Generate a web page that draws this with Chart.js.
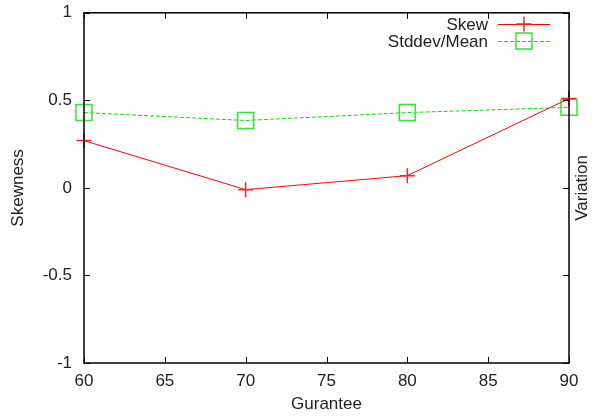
<!DOCTYPE html>
<html>
<head>
<meta charset="utf-8">
<script src="https://cdn.jsdelivr.net/npm/chart.js@4"></script>
<style>
  html, body { margin: 0; padding: 0; background: #fff; }
  #wrap { width: 592px; height: 416px; }
</style>
</head>
<body>
<div id="wrap"><canvas id="chart"></canvas></div>
<script>
const guarantee = [60, 70, 80, 90]
const skew = [0.27, -0.01, 0.07, 0.51]
const stddevMean = [0.43, 0.385, 0.43, 0.46]
const xTicks = [60, 65, 70, 75, 80, 85, 90]
const yTicks = [-1, -0.5, 0, 0.5, 1]

const FONT = { family: '"Liberation Sans", Arial, sans-serif', size: 17 }
const TEXT = '#222'

// gnuplot style frame: box round the plot, ticks pointing inward on all sides
const framePlugin = {
  id: 'frame',
  afterDraw(chart) {
    const { ctx, chartArea: a, scales } = chart
    ctx.save()
    ctx.strokeStyle = '#000'
    ctx.lineWidth = 1
    ctx.beginPath()
    xTicks.forEach(v => {
      const x = Math.round(scales.x.getPixelForValue(v)) + 0.5
      ctx.moveTo(x, a.bottom); ctx.lineTo(x, a.bottom - 6)
      ctx.moveTo(x, a.top); ctx.lineTo(x, a.top + 6)
    })
    yTicks.forEach(v => {
      const y = Math.round(scales.y.getPixelForValue(v)) + 0.5
      ctx.moveTo(a.left, y); ctx.lineTo(a.left + 6, y)
      ctx.moveTo(a.right, y); ctx.lineTo(a.right - 6, y)
    })
    ctx.stroke()
    ctx.lineWidth = 1.5
    ctx.strokeRect(a.left, a.top, a.right - a.left, a.bottom - a.top)

    // right axis title reads bottom-up like gnuplot
    ctx.fillStyle = TEXT
    ctx.font = FONT.size + 'px ' + FONT.family
    ctx.textAlign = 'center'
    ctx.textBaseline = 'middle'
    ctx.translate(582, (a.top + a.bottom) / 2)
    ctx.rotate(-Math.PI / 2)
    ctx.fillText('Variation', 0, 0)
    ctx.restore()

    // key in the top right corner
    ctx.save()
    ctx.font = FONT.size + 'px ' + FONT.family
    ctx.textAlign = 'right'
    ctx.textBaseline = 'middle'
    chart.data.datasets.forEach((ds, i) => {
      const y = 24 + i * 17
      ctx.fillStyle = TEXT
      ctx.fillText(ds.label, 488, y + 1)
      ctx.strokeStyle = ds.borderColor
      ctx.lineWidth = 1
      ctx.setLineDash(ds.borderDash || [])
      ctx.beginPath()
      ctx.moveTo(498, y + 0.5); ctx.lineTo(550, y + 0.5)
      ctx.stroke()
      ctx.setLineDash([])
      ctx.strokeStyle = ds.pointBorderColor
      ctx.fillStyle = 'rgba(0,0,0,0)'
      ctx.lineWidth = ds.pointBorderWidth
      Chart.helpers.drawPoint(ctx, {
        pointStyle: ds.pointStyle,
        radius: ds.pointRadius,
        borderWidth: ds.pointBorderWidth
      }, 524, y)
    })
    ctx.restore()
  }
}

new Chart(document.getElementById('chart'), {
  type: 'line',
  data: {
    datasets: [
      {
        label: 'Skew',
        data: guarantee.map((g, i) => ({ x: g, y: skew[i] })),
        borderColor: '#ff0000',
        borderWidth: 1,
        pointStyle: 'cross',
        pointRadius: 7.5,
        pointBorderColor: '#ff2020',
        pointBorderWidth: 1.5,
        clip: false
      },
      {
        label: 'Stddev/Mean',
        data: guarantee.map((g, i) => ({ x: g, y: stddevMean[i] })),
        borderColor: '#00e000',
        borderWidth: 1,
        borderDash: [4, 2],
        pointStyle: 'rect',
        pointRadius: 11.3,
        pointBorderColor: '#30e830',
        pointBackgroundColor: 'rgba(0,0,0,0)',
        pointBorderWidth: 1.5,
        clip: false
      }
    ]
  },
  plugins: [framePlugin],
  options: {
    responsive: true,
    maintainAspectRatio: false,
    animation: false,
    layout: { padding: { top: 12, right: 0, left: 0, bottom: 0 } },
    plugins: {
      legend: { display: false },
      tooltip: { enabled: false }
    },
    scales: {
      x: {
        type: 'linear',
        min: 60,
        max: 90,
        afterFit: s => { s.height = 53; s.paddingLeft = 0; s.paddingRight = 0 },
        afterBuildTicks: s => { s.ticks = xTicks.map(v => ({ value: v })) },
        grid: { display: false, drawTicks: false },
        border: { display: false },
        ticks: { color: TEXT, font: FONT, padding: 8, maxRotation: 0, callback: v => String(v) },
        title: { display: true, text: 'Gurantee', color: TEXT, font: FONT, padding: { top: 0, bottom: 1 } }
      },
      y: {
        min: -1,
        max: 1,
        afterFit: s => { s.width = 84; s.paddingTop = 0; s.paddingBottom = 0 },
        afterBuildTicks: s => { s.ticks = yTicks.map(v => ({ value: v })) },
        grid: { display: false, drawTicks: false },
        border: { display: false },
        ticks: { color: TEXT, font: FONT, padding: 12, callback: v => String(v) },
        title: { display: true, text: 'Skewness', color: TEXT, font: FONT, padding: { top: 8, bottom: 0 } }
      },
      y2: {
        position: 'right',
        min: -1,
        max: 1,
        afterFit: s => { s.width = 23 },
        grid: { display: false, drawTicks: false },
        border: { display: false },
        ticks: { display: false }
      }
    }
  }
})
</script>
</body>
</html>
